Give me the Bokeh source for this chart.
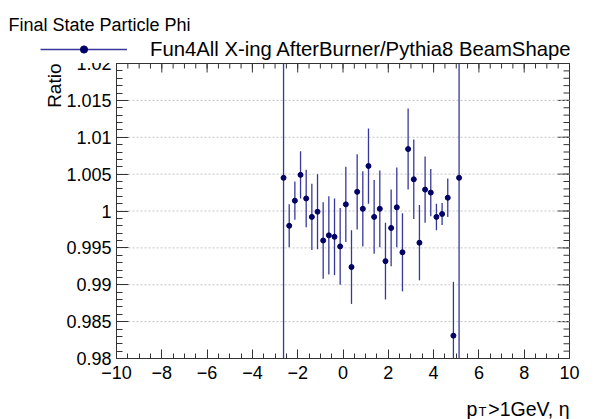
import numpy as np
from bokeh.plotting import figure
from bokeh.models import (FixedTicker, Label, Legend, LegendItem,
                          ColumnDataSource, Range1d)
from bokeh.embed import file_html
from bokeh.resources import INLINE

# ---------------- data ----------------
eta = [-2.625, -2.375, -2.125, -1.875, -1.625, -1.375, -1.125, -0.875,
       -0.625, -0.375, -0.125, 0.125, 0.375, 0.625, 0.875, 1.125,
       1.375, 1.625, 1.875, 2.125, 2.375, 2.625, 2.875, 3.125,
       3.375, 3.625, 3.875, 4.125, 4.375, 4.625, 4.875, 5.125]
ratio = [1.0045, 0.9980, 1.0014, 1.0049, 1.0017, 0.9992, 0.9999, 0.9960,
         0.9967, 0.9965, 0.9952, 1.0009, 0.9924, 1.0026, 1.0003, 1.0061,
         0.9992, 1.0003, 0.9932, 0.9977, 1.0005, 0.9944, 1.0084, 1.0043,
         0.9957, 1.0029, 1.0025, 0.9992, 0.9996, 1.0018, 0.9831, 1.0045]
ratio_err = [0.05, 0.0029, 0.0026, 0.0032, 0.0039, 0.0045, 0.0051, 0.0052,
             0.0053, 0.0052, 0.0052, 0.0051, 0.0050, 0.0051, 0.0051, 0.0051,
             0.0050, 0.0052, 0.0052, 0.0052, 0.0054, 0.0053, 0.0055, 0.0054,
             0.0051, 0.0045, 0.0032, 0.0018, 0.0015, 0.0026, 0.0073, 0.05]

x_tick_values = [-10, -8, -6, -4, -2, 0, 2, 4, 6, 8, 10]
x_tick_labels = ["\u221210", "\u22128", "\u22126", "\u22124", "\u22122", "0",
                 "2", "4", "6", "8", "10"]
y_tick_values = [0.98, 0.985, 0.99, 0.995, 1.0, 1.005, 1.01, 1.015, 1.02]
y_tick_labels = ["0.98", "0.985", "0.99", "0.995", "1", "1.005", "1.01",
                 "1.015", "1.02"]

title_text = "Final State Particle Phi"
legend_text = "Fun4All X-ing AfterBurner/Pythia8 BeamShape"
y_title = "Ratio"

# ---------------- geometry ----------------
W, H = 598, 419
FL, FR, FT, FB = 116, 569, 63, 358        # inner frame in canvas px
X0, X1, Y0, Y1 = -10.0, 10.0, 0.98, 1.02
KX = (FR - FL) / (X1 - X0)
KY = (FB - FT) / (Y1 - Y0)
FONT = "Liberation Sans"
C = "#38389c"
MC = "#000066"
FRAME_C = "#333333"
XT_MAJ, XT_MIN, YT_MAJ, YT_MIN = 9, 5, 12, 6   # tick lengths, px


def xd(px):  # canvas px -> data x
    return X0 + (px - FL) / KX


def yd(py):  # canvas px (from top) -> data y
    return Y1 - (py - FT) / KY


p = figure(width=W, height=H,
           x_range=Range1d(xd(0), xd(W)), y_range=Range1d(yd(H), yd(0)),
           output_backend="svg", toolbar_location=None,
           min_border=0, min_border_left=0, min_border_right=0,
           min_border_top=0, min_border_bottom=0)
p.background_fill_color = "white"
p.border_fill_color = "white"
p.outline_line_color = None
p.xgrid.visible = False
p.ygrid.visible = False

x_minor = [float(v) for v in np.arange(X0, X1 + 0.01, 0.5)]
y_minor = [float(v) for v in np.round(np.arange(Y0, Y1 + 0.0001, 0.001), 4)]


def style_axis(ax, ticks, minor, tin, mtin, labels, loc, bounds, standoff):
    ax.ticker = FixedTicker(ticks=ticks, minor_ticks=minor)
    ax.fixed_location = loc
    ax.bounds = bounds
    ax.axis_line_color = FRAME_C
    ax.axis_line_width = 1
    ax.major_tick_in = tin
    ax.major_tick_out = 0
    ax.minor_tick_in = mtin
    ax.minor_tick_out = 0
    ax.major_tick_line_color = FRAME_C
    ax.minor_tick_line_color = FRAME_C
    ax.major_label_text_font = FONT
    ax.major_label_text_color = "black"
    ax.major_label_text_font_size = "18px"
    ax.major_label_overrides = labels
    ax.major_label_standoff = standoff
    return ax


style_axis(p.xaxis[0], x_tick_values, x_minor, XT_MAJ, XT_MIN,
           dict(zip(x_tick_values, x_tick_labels)), Y0, (X0, X1), 7)
style_axis(p.yaxis[0], y_tick_values, y_minor, YT_MAJ, YT_MIN,
           dict(zip(y_tick_values, y_tick_labels)), X0, (Y0, Y1), 5)

# ---------------- top / right frame edges with inward ticks ----------------
p.segment(x0=[X0, X1], y0=[Y1, Y0], x1=[X1, X1], y1=[Y1, Y1],
          line_color=FRAME_C, line_width=1)
tx = x_tick_values + x_minor
tlen_x = [XT_MAJ / KY] * len(x_tick_values) + [XT_MIN / KY] * len(x_minor)
p.segment(x0=tx, y0=[Y1] * len(tx), x1=tx, y1=[Y1 - t for t in tlen_x],
          line_color=FRAME_C, line_width=1)
ty = y_tick_values + y_minor
tlen_y = [YT_MAJ / KX] * len(y_tick_values) + [YT_MIN / KX] * len(y_minor)
p.segment(x0=[X1] * len(ty), y0=ty, x1=[X1 - t for t in tlen_y], y1=ty,
          line_color=FRAME_C, line_width=1)

# ---------------- horizontal dotted grid ----------------
grid_vals = y_tick_values[1:-1]
p.segment(x0=[X0] * len(grid_vals), x1=[X1] * len(grid_vals), y0=grid_vals,
          y1=grid_vals, line_color="#c4c4c4", line_width=1, line_dash="2 2")

# ---------------- data marks (clipped to the frame like ROOT) ----------------
src = ColumnDataSource(dict(
    x=eta, y=ratio,
    lo=[max(r - e, Y0) for r, e in zip(ratio, ratio_err)],
    hi=[min(r + e, Y1) for r, e in zip(ratio, ratio_err)],
))
p.segment(x0="x", y0="lo", x1="x", y1="hi", source=src, line_color=C,
          line_width=1.3)
p.scatter(x="x", y="y", source=src, marker="circle", size=5, fill_color=MC,
          line_color=MC)

# ---------------- legend ----------------
nan_src = ColumnDataSource(dict(x=[np.nan], y=[np.nan]))
r_line = p.line(x="x", y="y", source=nan_src, line_color=C, line_width=1.3)
r_tick = p.scatter(x="x", y="y", source=nan_src, marker="cross",
                   size=9, line_color=C, line_width=1.3)
r_dot = p.scatter(x="x", y="y", source=nan_src, marker="circle", size=5,
                  fill_color=MC, line_color=MC)
legend = Legend(items=[LegendItem(label=legend_text, renderers=[r_line, r_tick, r_dot])],
                location=(38, H - 62.5), border_line_alpha=0,
                background_fill_color="white", background_fill_alpha=1,
                padding=2, margin=0, spacing=0, glyph_width=87, glyph_height=18,
                label_height=18, label_standoff=23, label_text_font=FONT,
                label_text_font_size="20.3px", label_text_baseline="middle",
                label_text_color="black")
p.add_layout(legend)

# ---------------- texts ----------------
p.add_layout(Label(x=xd(8), y=yd(24.5), text=title_text, text_font=FONT,
                   text_font_size="18px", text_align="left",
                   text_baseline="alphabetic", text_color="black"))
p.add_layout(Label(x=xd(53.5), y=yd(63), text=y_title, text_font=FONT,
                   text_font_size="19px", text_align="right", angle=np.pi / 2,
                   text_baseline="middle", text_color="black"))
p.add_layout(Label(x=xd(466), y=yd(408), text="p", text_font=FONT,
                   text_font_size="19.5px", text_align="left",
                   text_baseline="alphabetic", text_color="black"))
p.add_layout(Label(x=xd(478), y=yd(411), text="T", text_font=FONT,
                   text_font_size="13px", text_align="left",
                   text_baseline="alphabetic", text_color="black"))
p.add_layout(Label(x=xd(569), y=yd(408), text=">1GeV, \u03b7", text_font=FONT,
                   text_font_size="19.5px", text_align="right",
                   text_baseline="alphabetic", text_color="black"))

open("out.html", "w").write(file_html(p, INLINE))
